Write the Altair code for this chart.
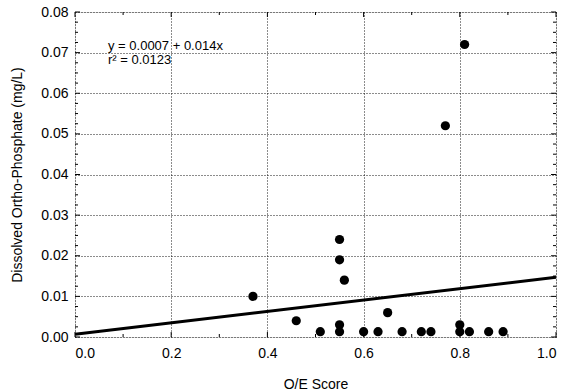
import altair as alt
import pandas as pd

# Observed data
oe_score = [0.37, 0.46, 0.51, 0.55, 0.55, 0.56, 0.55, 0.55, 0.60, 0.63, 0.65,
            0.68, 0.72, 0.74, 0.77, 0.80, 0.80, 0.81, 0.82, 0.86, 0.89]
phosphate = [0.010, 0.004, 0.0013, 0.024, 0.019, 0.014, 0.003, 0.0013, 0.0013, 0.0013, 0.006,
             0.0013, 0.0013, 0.0013, 0.052, 0.003, 0.0013, 0.072, 0.0013, 0.0013, 0.0013]

# Regression line endpoints (y = 0.0007 + 0.014x)
fit_x = [0.0, 1.0]
fit_y = [0.0007, 0.0147]

# Tick values
x_major = [0.0, 0.2, 0.4, 0.6, 0.8, 1.0]
y_major = [0.00, 0.01, 0.02, 0.03, 0.04, 0.05, 0.06, 0.07, 0.08]
x_minor = [0.1, 0.3, 0.5, 0.7, 0.9]
y_minor = [0.0025, 0.005, 0.0075, 0.0125, 0.015, 0.0175, 0.0225, 0.025, 0.0275,
           0.0325, 0.035, 0.0375, 0.0425, 0.045, 0.0475, 0.0525, 0.055, 0.0575,
           0.0625, 0.065, 0.0675, 0.0725, 0.075, 0.0775]

eq_lines = ["y = 0.0007 + 0.014x", "r\u00b2 = 0.0123"]

W, H = 481, 325
FONT = "Liberation Sans"

pts = pd.DataFrame({"x": oe_score, "y": phosphate})
fit = pd.DataFrame({"x": fit_x, "y": fit_y})

xs = alt.Scale(domain=[0, 1], nice=False, zero=False)
ys = alt.Scale(domain=[0, 0.08], nice=False, zero=False)

xax = alt.Axis(values=x_major, format=".1f", grid=True,
               tickSize=0, domain=False, labelPadding=9, titlePadding=17,
               labelFontSize=14, titleFontSize=14, labelFont=FONT, titleFont=FONT,
               labelColor="black", titleColor="black", titleFontWeight="normal",
               gridColor="black", gridDash=[1, 2], gridWidth=1, gridOpacity=0.9)
yax = alt.Axis(values=y_major, format=".2f",
               grid=True, tickSize=0, domain=False, labelPadding=7, titlePadding=16,
               labelFontSize=14, titleFontSize=14, labelFont=FONT, titleFont=FONT,
               labelColor="black", titleColor="black", titleFontWeight="normal",
               gridColor="black", gridDash=[1, 2], gridWidth=1, gridOpacity=0.9)

XT = "O/E Score"
YT = "Dissolved Ortho-Phosphate (mg/L)"

def X():
    return alt.X("x:Q", scale=xs, axis=xax, title=XT)

def Y():
    return alt.Y("y:Q", scale=ys, axis=yax, title=YT)

base_pts = alt.Chart(pts).mark_circle(size=85, color="black", opacity=1).encode(x=X(), y=Y())
line = alt.Chart(fit).mark_line(color="black", strokeWidth=3).encode(x=X(), y=Y())

def yticks(vals, length):
    d = pd.DataFrame({"y": vals})
    left = alt.Chart(d).mark_rule(color="black", strokeWidth=1).encode(
        y=Y(), x=alt.value(0), x2=alt.value(length))
    right = alt.Chart(d).mark_rule(color="black", strokeWidth=1).encode(
        y=Y(), x=alt.value(W), x2=alt.value(W - length))
    return [left, right]

def xticks(vals, length):
    d = pd.DataFrame({"x": vals})
    bottom = alt.Chart(d).mark_rule(color="black", strokeWidth=1).encode(
        x=X(), y=alt.value(H), y2=alt.value(H - length))
    top = alt.Chart(d).mark_rule(color="black", strokeWidth=1).encode(
        x=X(), y=alt.value(0), y2=alt.value(length))
    return [bottom, top]

ticks = yticks(y_major, 5) + yticks(y_minor, 3) + xticks(x_major, 5) + xticks(x_minor, 3)

def eq_text(s, ypix):
    return alt.Chart(pd.DataFrame({"t": [s]})).mark_text(
        align="left", baseline="middle", fontSize=13, font=FONT, color="black"
    ).encode(text="t:N", x=alt.value(33), y=alt.value(ypix))

texts = [eq_text(eq_lines[0], 34), eq_text(eq_lines[1], 48)]

chart = alt.layer(base_pts, line, *ticks, *texts).properties(
    width=W, height=H,
    autosize=alt.AutoSizeParams(type="none"),
    padding={"left": 75, "top": 12, "right": 20, "bottom": 55},
).configure_view(stroke="black", strokeWidth=1.5).configure(background="white")

chart.save("out.html", embed_options={"renderer": "svg", "actions": False})
